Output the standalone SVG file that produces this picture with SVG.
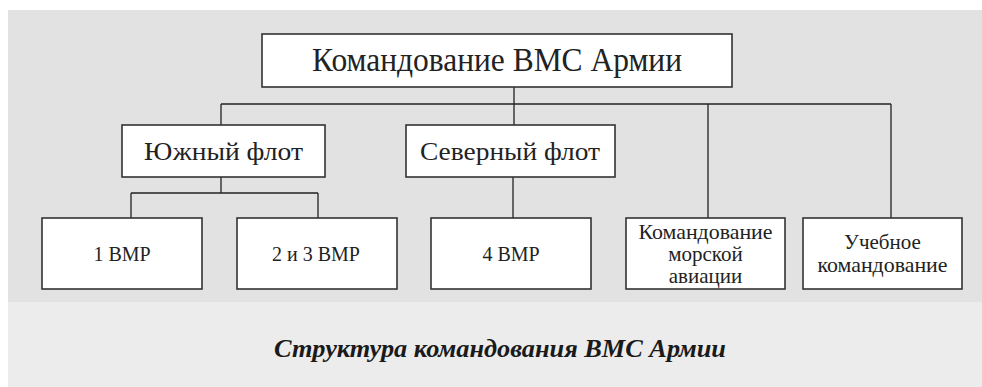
<svg xmlns="http://www.w3.org/2000/svg" width="982" height="387" viewBox="0 0 982 387">
<defs>
<style>
.box{fill:#fff;stroke:#333;stroke-width:1.6}
.ln{stroke:#222;stroke-width:1.3;fill:none}
.t{font-family:'Liberation Serif','Times New Roman',serif;fill:#222;text-anchor:middle}
.cap{font-family:'Liberation Serif','Times New Roman',serif;font-weight:bold;font-style:italic;fill:#1a1a1a;text-anchor:middle}
</style>
</defs>
<rect x="0" y="0" width="982" height="387" fill="#fff"/>
<rect x="8" y="10" width="974" height="292" fill="#e2e2e2"/>
<rect x="8" y="302" width="974" height="85" fill="#ececec"/>
<g id="connectors">
<path class="ln" d="M514 87V104M221 104H891M221 104V125M514 104V125M708 104V218M891 104V218"/>
<path class="ln" d="M221 177V193M131 193H318M131 193V218M318 193V218"/>
<path class="ln" d="M513 177V218"/>
</g>
<g id="n-top">
<rect class="box" x="262" y="34" width="470" height="53"/>
<text class="t" x="497" y="71" font-size="33" textLength="370" lengthAdjust="spacingAndGlyphs">Командование ВМС Армии</text>
</g>
<g id="n-south">
<rect class="box" x="122" y="125" width="203" height="52"/>
<text class="t" x="223.5" y="160" font-size="25" textLength="159" lengthAdjust="spacingAndGlyphs">Южный флот</text>
</g>
<g id="n-north">
<rect class="box" x="406" y="125" width="209" height="52"/>
<text class="t" x="510" y="160" font-size="25" textLength="180" lengthAdjust="spacingAndGlyphs">Северный флот</text>
</g>
<g id="n-1vmr">
<rect class="box" x="42" y="218" width="160" height="71"/>
<text class="t" x="122" y="261" font-size="20">1 ВМР</text>
</g>
<g id="n-23vmr">
<rect class="box" x="237" y="218" width="160" height="71"/>
<text class="t" x="316" y="261" font-size="20">2 и 3 ВМР</text>
</g>
<g id="n-4vmr">
<rect class="box" x="431" y="218" width="160" height="71"/>
<text class="t" x="511" y="261" font-size="20">4 ВМР</text>
</g>
<g id="n-avia">
<rect class="box" x="626" y="218" width="159" height="71"/>
<text class="t" x="705.5" y="239" font-size="21" textLength="134" lengthAdjust="spacingAndGlyphs">Командование</text>
<text class="t" x="705.5" y="261" font-size="21">морской</text>
<text class="t" x="705.5" y="283" font-size="21">авиации</text>
</g>
<g id="n-train">
<rect class="box" x="803" y="218" width="159" height="71"/>
<text class="t" x="882.5" y="249" font-size="21">Учебное</text>
<text class="t" x="882.5" y="272" font-size="21" textLength="130" lengthAdjust="spacingAndGlyphs">командование</text>
</g>
<g id="caption">
<text class="cap" x="500" y="357" font-size="25" textLength="452" lengthAdjust="spacingAndGlyphs">Структура командования ВМС Армии</text>
</g>
</svg>
